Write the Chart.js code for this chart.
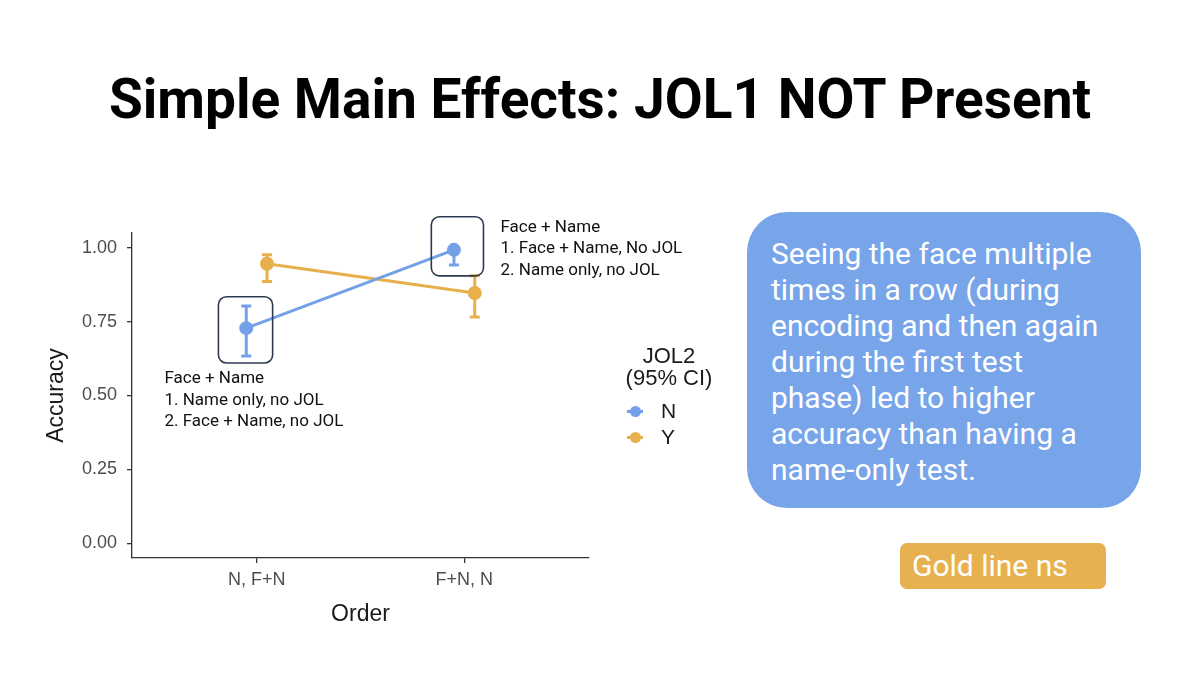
<!DOCTYPE html>
<html><head><meta charset="utf-8">
<script src="https://cdn.jsdelivr.net/npm/chart.js@4.4.1/dist/chart.umd.min.js"></script>
<style>
html,body{margin:0;padding:0;background:#fff;width:1200px;height:675px;overflow:hidden;position:relative;font-family:Roboto,sans-serif}
#title{position:absolute;left:0;top:71px;width:1200px;text-align:center;font:700 55px/56px Roboto;color:#000;white-space:nowrap}
#wrap{position:absolute;left:0;top:190px;width:720px;height:460px}
.lg{position:absolute;font-family:'Liberation Sans',Arial,sans-serif;color:#1a1a1a}
.key-line{position:absolute;height:3px;width:16px}
.key-dot{position:absolute;width:11px;height:11px;border-radius:50%}
#note{position:absolute;left:747px;top:212px;width:394px;height:296px;box-sizing:border-box;border-radius:40px;color:#fff;font:30px/36px Roboto;padding:24px 4px 0 24px;white-space:nowrap}
#ns{position:absolute;left:900px;top:543px;width:206px;height:46px;border-radius:7px;color:#fff;font:30px/46px Roboto;padding-left:12px;box-sizing:border-box;white-space:nowrap}
</style>
</head><body>
<div id="title">Simple Main Effects: JOL1 NOT Present</div>
<div id="wrap"><canvas id="c"></canvas></div>
<div id="legend"></div>
<div id="note"></div>
<div id="ns"></div>
<script>
// ---- data ----
const categories = ['N, F+N', 'F+N, N'];
const seriesNames = ['N', 'Y'];
const accN  = [0.728, 0.993];
const lowN  = [0.634, 0.942];
const highN = [0.803, 1.000];
const accY  = [0.946, 0.847];
const lowY  = [0.886, 0.766];
const highY = [0.976, 0.905];
const yTicks = [0, 0.25, 0.5, 0.75, 1.0];
const xTitle = 'Order';
const yTitle = 'Accuracy';
const legendTitle = ['JOL2', '(95% CI)'];
const noteLines = ['Seeing the face multiple','times in a row (during','encoding and then again','during the first test','phase) led to higher','accuracy than having a','name-only test.'];
const nsText = 'Gold line ns';
const annoText1 = ['Face + Name','1. Name only, no JOL','2. Face + Name, no JOL'];
const annoText2 = ['Face + Name','1. Face + Name, No JOL','2. Name only, no JOL'];

// ---- style ----
const BLUE = '#74a0e8', GOLD = '#e8b04c';
const BOXBLUE = '#78a4e9', BOXGOLD = '#e8b150';
const dodge = [-0.05, 0.05];
const colors = [BLUE, GOLD];
const acc = [accN, accY], low = [lowN, lowY], high = [highN, highY];

document.getElementById('note').style.background = BOXBLUE;
document.getElementById('note').innerHTML = noteLines.join('<br>');
document.getElementById('ns').style.background = BOXGOLD;
document.getElementById('ns').textContent = nsText;

// legend
const lg = document.getElementById('legend');
lg.innerHTML =
  `<div class="lg" style="left:609px;top:345px;width:120px;text-align:center;font-size:22px;line-height:22px">${legendTitle.join('<br>')}</div>` +
  seriesNames.map((s,i)=>{
    const cy = 411 + i*26;
    return `<div class="key-line" style="left:627px;top:${cy-1.5}px;background:${colors[i]}"></div>`+
           `<div class="key-dot" style="left:629.5px;top:${cy-5.5}px;background:${colors[i]}"></div>`+
           `<div class="lg" style="left:661px;top:${cy-11}px;font-size:21px;line-height:22px">${s}</div>`;
  }).join('');

const errorBars = {
  id:'errorBars',
  beforeDatasetsDraw(chart){
    const {ctx, scales:{x,y}} = chart;
    ctx.save();
    acc.forEach((vals,d)=>{
      ctx.strokeStyle = colors[d]; ctx.lineWidth = 3; ctx.lineCap='butt';
      vals.forEach((v,i)=>{
        const px = x.getPixelForValue(i+1+dodge[d]);
        const y0 = y.getPixelForValue(low[d][i]), y1 = y.getPixelForValue(high[d][i]);
        ctx.beginPath();
        ctx.moveTo(px,y0); ctx.lineTo(px,y1);
        ctx.moveTo(px-5,y0); ctx.lineTo(px+5,y0);
        ctx.moveTo(px-5,y1); ctx.lineTo(px+5,y1);
        ctx.stroke();
      });
    });
    ctx.restore();
  }
};

function rr(ctx,x0,y0,x1,y1,r){
  ctx.beginPath();
  ctx.moveTo(x0+r,y0); ctx.lineTo(x1-r,y0); ctx.arcTo(x1,y0,x1,y0+r,r);
  ctx.lineTo(x1,y1-r); ctx.arcTo(x1,y1,x1-r,y1,r);
  ctx.lineTo(x0+r,y1); ctx.arcTo(x0,y1,x0,y1-r,r);
  ctx.lineTo(x0,y0+r); ctx.arcTo(x0,y0,x0+r,y0,r);
  ctx.closePath();
}

const annotations = {
  id:'annotations',
  afterDatasetsDraw(chart){
    const {ctx, scales:{x,y}} = chart;
    ctx.save();
    ctx.strokeStyle = '#2e3a52'; ctx.lineWidth = 1.6;
    [[0.816,0.834,1.077,0.610],[1.841,1.105,2.092,0.905]].forEach(b=>{
      rr(ctx, x.getPixelForValue(b[0]), y.getPixelForValue(b[1]), x.getPixelForValue(b[2]), y.getPixelForValue(b[3]), 8);
      ctx.stroke();
    });
    ctx.fillStyle = '#111';
    ctx.font = '17px Roboto';
    ctx.textBaseline = 'alphabetic'; ctx.textAlign = 'left';
    [[annoText1,0.556,0.542],[annoText2,2.174,1.054]].forEach(([lines,ax,ay])=>{
      const px = x.getPixelForValue(ax), py = y.getPixelForValue(ay);
      lines.forEach((t,k)=>ctx.fillText(t, px, py + k*21.5));
    });
    ctx.restore();
  }
};

const tickFont = {family:"'Liberation Sans', Arial, sans-serif", size:18};
const titleFont = {family:"'Liberation Sans', Arial, sans-serif", size:23};

new Chart(document.getElementById('c'), {
  type:'line',
  data:{
    datasets: seriesNames.map((s,d)=>({
      label:s,
      data: acc[d].map((v,i)=>({x:i+1+dodge[d], y:v})),
      borderColor: colors[d], backgroundColor: colors[d],
      borderWidth:3, pointRadius:5.5, pointHoverRadius:5.5, tension:0
    }))
  },
  options:{
    responsive:true, maintainAspectRatio:false, animation:false,
    layout:{padding:{left:0,right:131,top:43,bottom:0}},
    plugins:{legend:{display:false}, tooltip:{enabled:false}},
    scales:{
      x:{type:'linear', min:0.4, max:2.6,
        afterBuildTicks(s){ s.ticks = categories.map((c,i)=>({value:i+1})); },
        afterFit(s){ s.height = 92; },
        ticks:{callback:(v)=>categories[Math.round(v)-1] ?? '', color:'#4d4d4d', font:tickFont, padding:6, maxRotation:0, autoSkip:false},
        grid:{drawOnChartArea:false, drawTicks:true, tickLength:5, color:'#333', lineWidth:1.3},
        border:{display:true, color:'#333', width:1.3},
        title:{display:true, text:xTitle, color:'#1a1a1a', font:titleFont, padding:{top:0,bottom:22}}
      },
      y:{min:-0.05, max:1.05,
        afterBuildTicks(s){ s.ticks = yTicks.map(v=>({value:v})); },
        afterFit(s){ s.width = 132; },
        ticks:{callback:(v)=>Number(v).toFixed(2), color:'#4d4d4d', font:tickFont, padding:10},
        grid:{drawOnChartArea:false, drawTicks:true, tickLength:5, color:'#333', lineWidth:1.3},
        border:{display:true, color:'#333', width:1.3},
        title:{display:true, text:yTitle, color:'#1a1a1a', font:titleFont, padding:{top:43,bottom:0}}
      }
    }
  },
  plugins:[errorBars, annotations]
});
</script>
</body></html>
